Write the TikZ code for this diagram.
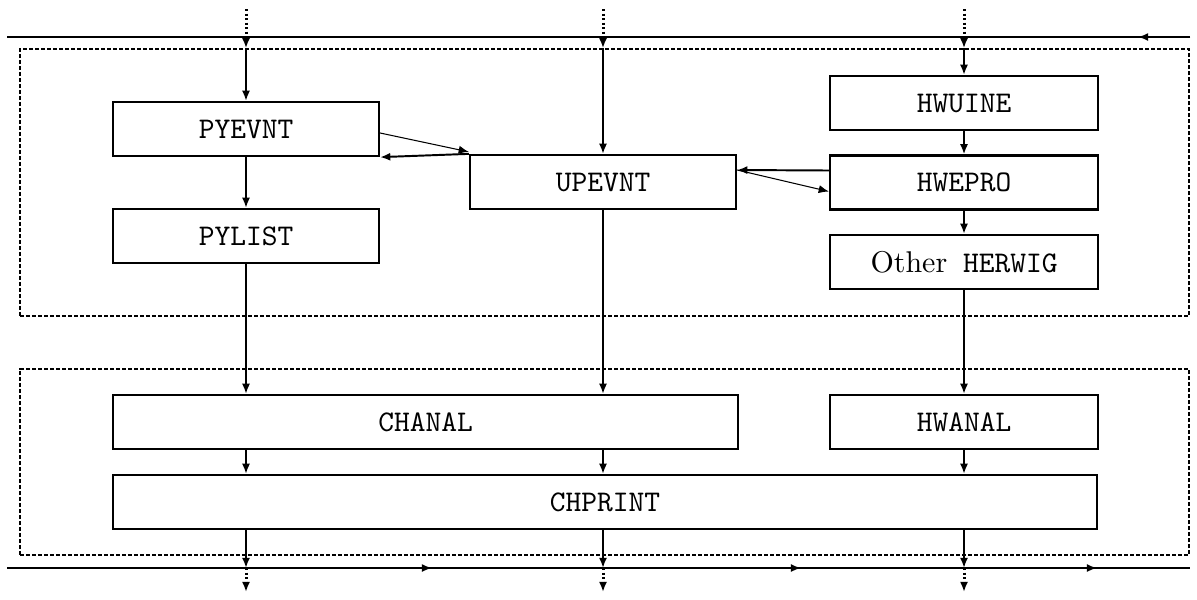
\documentclass[tikz,border=0pt]{standalone}
\usetikzlibrary{arrows.meta,calc}
\begin{document}
\begin{tikzpicture}[x=0.33333pt,y=-0.33333pt,
 box/.style={draw, line width=0.75pt, inner sep=0pt, minimum width=88.67pt, minimum height=18pt, font=\ttfamily},
 region/.style={draw, line width=0.5pt, dash pattern=on 1.4pt off 0.6pt, inner sep=0pt},
 flow/.style={line width=0.65pt, -{Latex[length=3.4pt,width=2.7pt]}},
 fine/.style={line width=0.35pt, -{Latex[length=3.4pt,width=2.7pt]}},
 dots/.style={line width=1pt, dash pattern=on 0.8pt off 0.7pt, -{Latex[length=3.4pt,width=2.7pt]}},
 bus/.style={line width=0.6pt},
 busarrow/.style={line width=0.6pt, -{Latex[length=3.4pt,width=2.7pt]}}]
\useasboundingbox (0,0) rectangle (1197,599);

% regions
\node[region, minimum width=389.67pt, minimum height=89pt] (upper) at (604.5,182.5) {};
\node[region, minimum width=389.67pt, minimum height=62pt] (lower) at (604.5,462) {};

% boxes
\node[box] (pyevnt) at (246,129) {PYEVNT};
\node[box] (pylist) at (246,236) {PYLIST};
\node[box] (upevnt) at (603,182) {UPEVNT};
\node[box, minimum width=89.33pt] (hwuine) at (964,103) {HWUINE};
\node[box, minimum width=89.33pt] (hwepro) at (964,182.5) {HWEPRO};
\node[box, minimum width=89.33pt] (other) at (964,262) {{\rmfamily Other} HERWIG};
\node[box, minimum width=208.33pt] (chanal) at (425.5,422) {CHANAL};
\node[box, minimum width=89.33pt] (hwanal) at (964,422) {HWANAL};
\node[box, minimum width=328pt] (chprint) at (605,502) {CHPRINT};

% buses
\coordinate (tl) at (7,37);
\coordinate (tr) at (1190,37);
\coordinate (ta) at (1138,37);
\draw[bus] (tr) -- (tl);
\draw[busarrow] (tr) -- (ta);
\coordinate (bl) at (7,568);
\coordinate (br) at (1190,568);
\coordinate (m1) at (432,568);
\coordinate (m2) at (801,568);
\coordinate (m3) at (1097,568);
\draw[bus] (bl) -- (br);
\draw[busarrow] (bl) -- (m1);
\draw[busarrow] (bl) -- (m2);
\draw[busarrow] (bl) -- (m3);

% inputs from above
\coordinate (i1) at (246,9);
\coordinate (i2) at (603,9);
\coordinate (i3) at (964,9);
\draw[dots] (i1) -- (i1 |- upper.north);
\draw[dots] (i2) -- (i2 |- upper.north);
\draw[dots] (i3) -- (i3 |- upper.north);
\draw[flow] (i1 |- upper.north) -- (pyevnt.north);
\draw[flow] (i2 |- upper.north) -- (upevnt.north);
\draw[flow] (i3 |- upper.north) -- (hwuine.north);

% upper region flows
\draw[flow] (pyevnt) -- (pylist);
\draw[flow] (hwuine) -- (hwepro);
\draw[flow] (hwepro) -- (other);
\draw[fine] ($(pyevnt.east)+(0,4)$) -- ($(upevnt.north west)+(0,-2)$);
\draw[flow] (upevnt.north west) -- (pyevnt.south east);
\draw[flow] ($(hwepro.west)+(0,-12)$) -- ($(upevnt.east)+(0,-12)$);
\draw[fine] ($(upevnt.east)+(0,-12)$) -- ($(hwepro.west)+(0,9)$);

% down to lower region
\draw[flow] (pylist) -- (pylist |- chanal.north);
\draw[flow] (upevnt) -- (upevnt |- chanal.north);
\draw[flow] (other) -- (hwanal);

% lower region flows
\draw[flow] (chanal.south -| pylist) -- (chprint.north -| pylist);
\draw[flow] (chanal.south -| upevnt) -- (chprint.north -| upevnt);
\draw[flow] (hwanal) -- (hwanal |- chprint.north);

% outputs
\coordinate (o1) at (246,568);
\coordinate (o2) at (603,568);
\coordinate (o3) at (964,568);
\draw[flow] (chprint.south -| o1) -- (o1);
\draw[flow] (chprint.south -| o2) -- (o2);
\draw[flow] (chprint.south -| o3) -- (o3);
\coordinate (e1) at (246,592);
\coordinate (e2) at (603,592);
\coordinate (e3) at (964,592);
\draw[dots] (o1) -- (e1);
\draw[dots] (o2) -- (e2);
\draw[dots] (o3) -- (e3);
\end{tikzpicture}
\end{document}
